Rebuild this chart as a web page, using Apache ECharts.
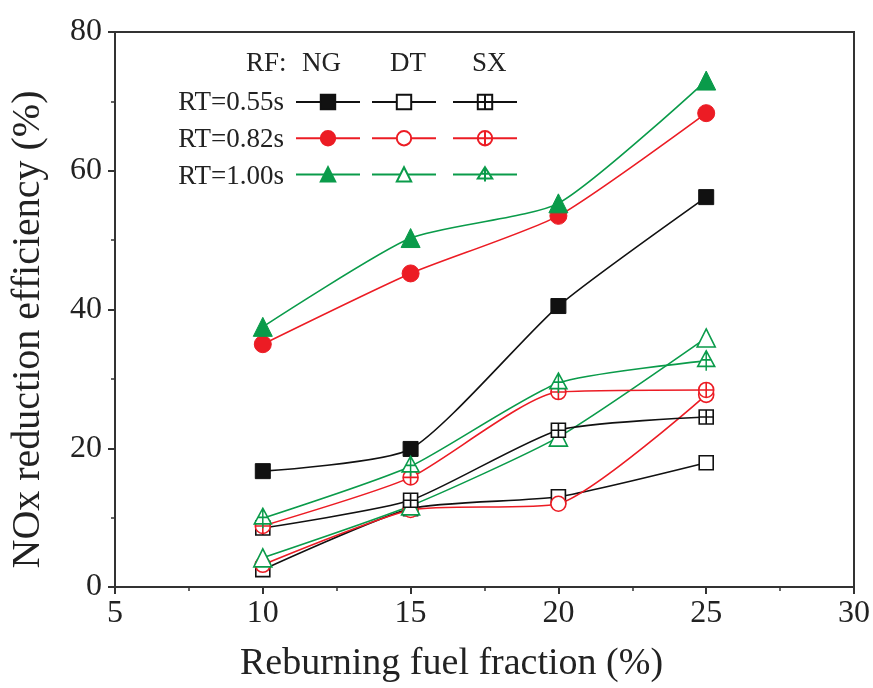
<!DOCTYPE html>
<html>
<head>
<meta charset="utf-8">
<script src="https://cdn.jsdelivr.net/npm/echarts@6/dist/echarts.min.js"></script>
<style>html,body{margin:0;padding:0;background:#fff}#c{width:873px;height:688px}</style>
</head>
<body>
<div id="c"></div>
<script>
const xValues = [10, 15, 20, 25];
const ng055 = [16.7, 19.9, 40.5, 56.2];
const ng082 = [35.0, 45.2, 53.5, 68.3];
const ng100 = [37.5, 50.3, 55.3, 73.0];
const dt055 = [2.5, 11.3, 13.0, 17.9];
const dt082 = [3.2, 11.1, 12.0, 27.7];
const dt100 = [4.2, 11.7, 21.6, 35.9];
const sx055 = [8.5, 12.5, 22.6, 24.5];
const sx082 = [8.8, 15.8, 28.1, 28.4];
const sx100 = [9.9, 17.4, 29.4, 32.6];
const rowLabels = ['RT=0.55s', 'RT=0.82s', 'RT=1.00s'];
const colLabels = ['NG', 'DT', 'SX'];

const FONT = 'Liberation Serif';
const BLACK = '#111111', RED = '#ec1c24', GREEN = '#0a9b4a';
const SQ_X = 'path://M0,0L20,0L20,20L0,20ZM10,0L10,20M0,10L20,10';
const CI_X = 'path://M0,10A10,10,0,1,1,20,10A10,10,0,1,1,0,10ZM10,0L10,20M0,10L20,10';
const TR_X = 'path://M10,0L20,18L0,18ZM10,0L10,23M4,10.5L16,10.5';

function pts(arr) { return xValues.map((x, i) => [x, arr[i]]); }
function mk(name, data, color, symbol, filled, size) {
  return {
    name: name, type: 'line', data: pts(data), smooth: 0.2,
    symbol: symbol, symbolSize: size,
    lineStyle: { color: color, width: 1.6 },
    itemStyle: filled ? { color: color, borderColor: color, borderWidth: 1 }
                      : { color: '#ffffff', borderColor: color, borderWidth: 1.6 },
    z: filled ? 3 : 4
  };
}
const series = [
  mk('NG 0.55', ng055, BLACK, 'rect', true, 15),
  mk('NG 0.82', ng082, RED, 'circle', true, 17),
  mk('NG 1.00', ng100, GREEN, 'triangle', true, 19),
  mk('DT 0.55', dt055, BLACK, 'rect', false, 14),
  mk('DT 0.82', dt082, RED, 'circle', false, 15),
  mk('DT 1.00', dt100, GREEN, 'triangle', false, 18),
  mk('SX 0.55', sx055, BLACK, SQ_X, false, 14),
  mk('SX 0.82', sx082, RED, CI_X, false, 15),
  mk('SX 1.00', sx100, GREEN, TR_X, false, [17, 20])
];

function legendCol(prefix, left) {
  return {
    orient: 'vertical', left: left, top: 88, itemWidth: 64, itemHeight: 18, itemGap: 19,
    data: ['0.55', '0.82', '1.00'].map(s => prefix + ' ' + s),
    formatter: () => '', selectedMode: false,
    textStyle: { fontSize: 1 }
  };
}

const txtFont = '27px "' + FONT + '"';
const graphic = [
  { type: 'text', left: 246, top: 50, style: { text: 'RF:', font: txtFont, fill: '#222' } },
  { type: 'text', left: 302, top: 50, style: { text: colLabels[0], font: txtFont, fill: '#222' } },
  { type: 'text', left: 390, top: 50, style: { text: colLabels[1], font: txtFont, fill: '#222' } },
  { type: 'text', left: 472, top: 50, style: { text: colLabels[2], font: txtFont, fill: '#222' } }
];
rowLabels.forEach((t, i) => {
  graphic.push({ type: 'text', right: 873 - 284, top: 89 + i * 37,
    style: { text: t, font: txtFont, fill: '#222' } });
});

const chart = echarts.init(document.getElementById('c'), null, { renderer: 'canvas' });
chart.setOption({
  animation: false,
  backgroundColor: '#ffffff',
  grid: { left: 114, right: 16, top: 32, bottom: 101, show: true, borderColor: '#333', borderWidth: 2, backgroundColor: 'transparent' },
  xAxis: {
    type: 'value', min: 5, max: 30, interval: 5,
    name: 'Reburning fuel fraction (%)', nameLocation: 'middle', nameGap: 58,
    nameTextStyle: { fontFamily: FONT, fontSize: 38, color: '#222', padding: [0, 66, 0, 0] },
    axisLine: { lineStyle: { color: '#333', width: 2 } },
    axisTick: { show: true, length: 7, lineStyle: { color: '#333', width: 2 } },
    minorTick: { show: true, splitNumber: 2, length: 4, lineStyle: { color: '#333', width: 1.5 } },
    axisLabel: { fontFamily: FONT, fontSize: 32, color: '#222', margin: 11 },
    splitLine: { show: false }
  },
  yAxis: {
    type: 'value', min: 0, max: 80, interval: 20,
    name: 'NOx reduction efficiency (%)', nameLocation: 'middle', nameGap: 67,
    nameTextStyle: { fontFamily: FONT, fontSize: 40, color: '#222', padding: [0, 40, 0, 0] },
    axisLine: { show: true, lineStyle: { color: '#333', width: 2 } },
    axisTick: { show: true, length: 7, lineStyle: { color: '#333', width: 2 } },
    minorTick: { show: true, splitNumber: 2, length: 4, lineStyle: { color: '#333', width: 1.5 } },
    axisLabel: { fontFamily: FONT, fontSize: 32, color: '#222', margin: 13 },
    splitLine: { show: false }
  },
  legend: [legendCol('NG', 290), legendCol('DT', 366), legendCol('SX', 447)],
  graphic: graphic,
  series: series
});
</script>
</body>
</html>
